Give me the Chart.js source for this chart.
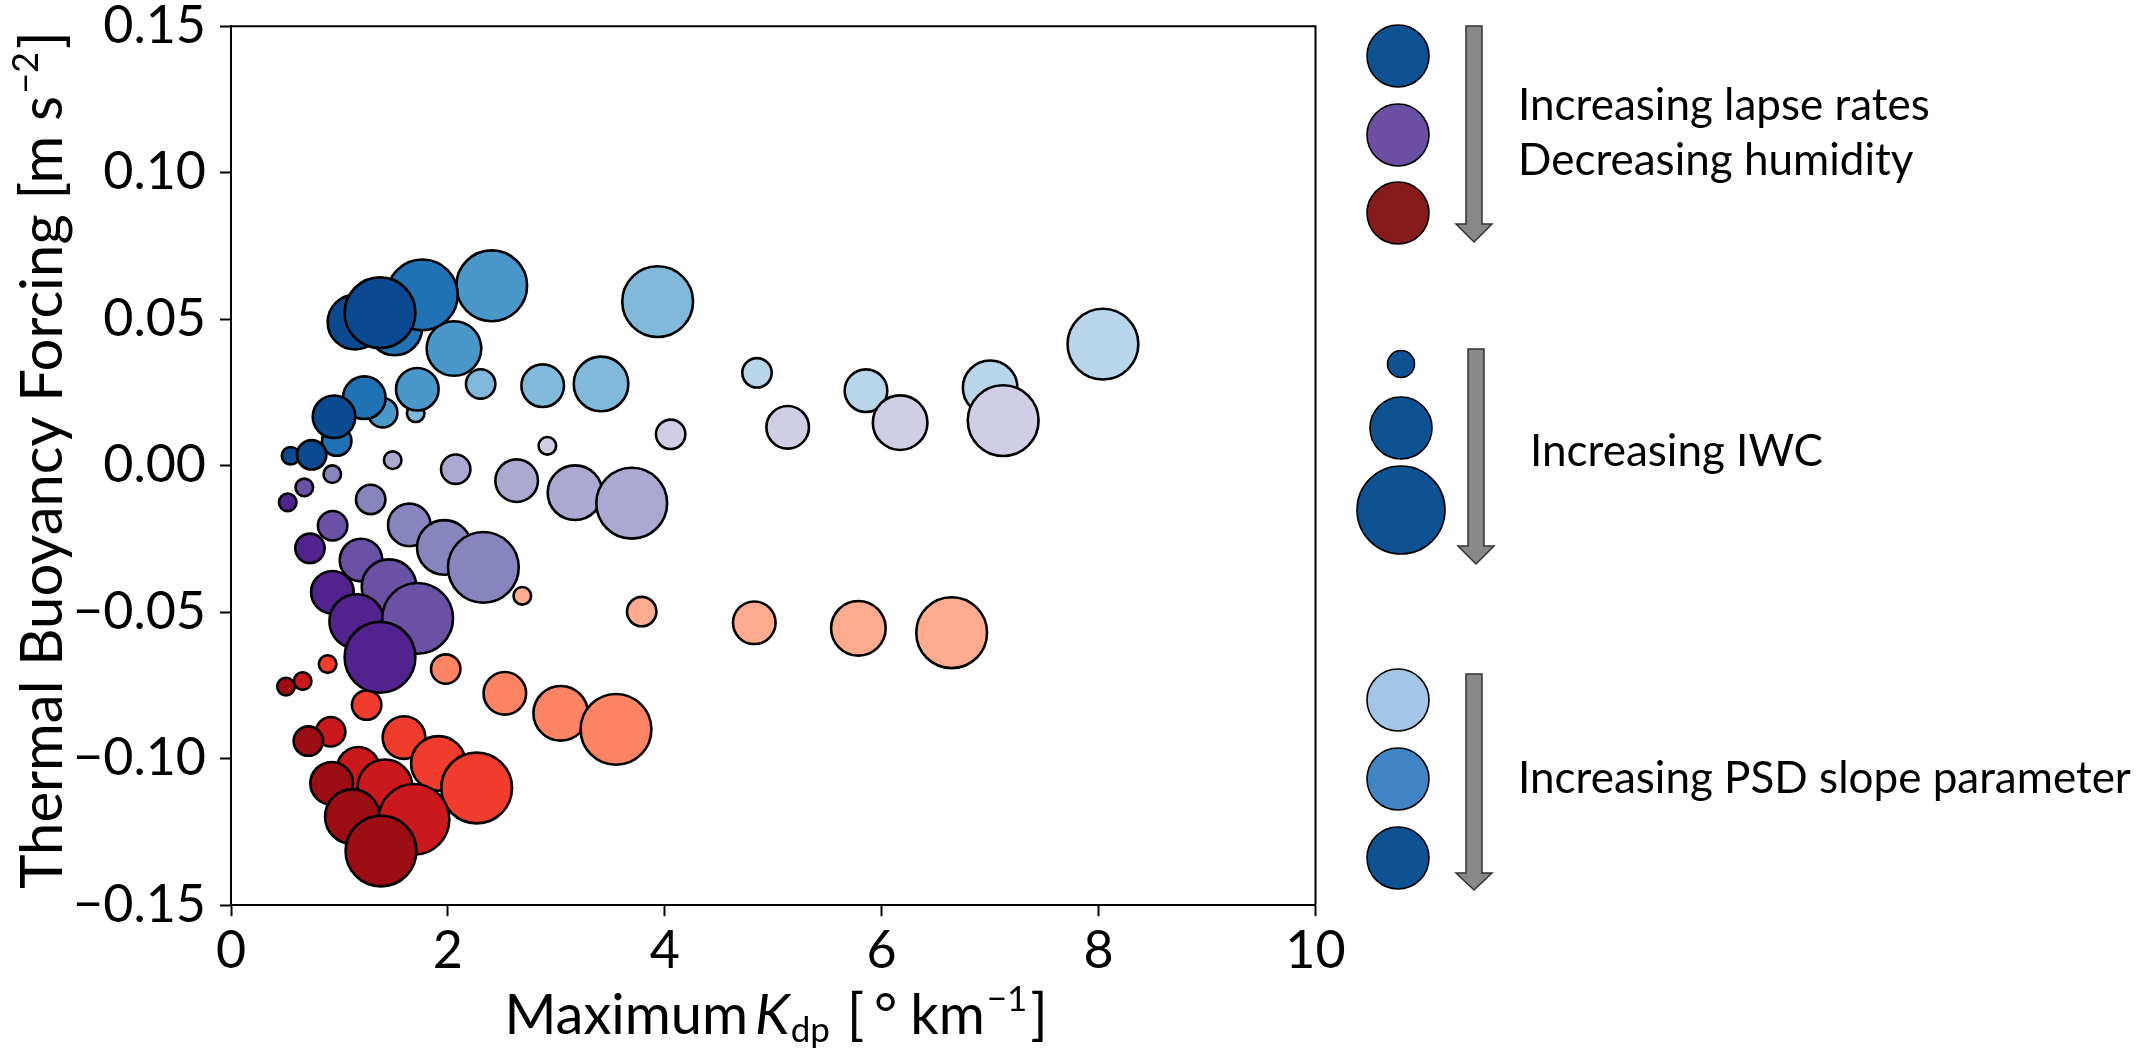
<!DOCTYPE html>
<html>
<head>
<meta charset="utf-8">
<style>
  html, body { margin: 0; padding: 0; background: #ffffff; }
  #wrap { width: 2154px; height: 1049px; position: relative; }
</style>
<script src="https://cdn.jsdelivr.net/npm/chart.js@4.4.1/dist/chart.umd.min.js"></script>
</head>
<body>
<div id="wrap"><canvas id="c" width="2154" height="1049"></canvas></div>
<script>
// ---------------- DATA ----------------
// Max Kdp [deg/km], thermal buoyancy forcing [m s^-2]
// shade: 0 = lightest ... 4 = darkest (PSD slope parameter); level: 0 = smallest ... 4 = largest (IWC)
const blueKdp   = [0.550, 0.744, 0.950, 1.143, 1.374,  0.975, 1.229, 1.510, 1.764,  1.399, 1.718, 2.056, 2.404,  1.703, 2.302, 2.874, 3.412, 3.934,  4.850, 5.855, 7.000, 8.040];
const blueTbf   = [0.0034, 0.0037, 0.0167, 0.0490, 0.0522,  0.0084, 0.0232, 0.0470, 0.0583,  0.0181, 0.0261, 0.0400, 0.0614,  0.0179, 0.0279, 0.0273, 0.0279, 0.0560,  0.0317, 0.0256, 0.0266, 0.0415];
const blueShade = [4, 4, 4, 4, 4,  3, 3, 3, 3,  2, 2, 2, 2,  1, 1, 1, 1, 1,  0, 0, 0, 0];
const blueLevel = [0, 1, 2, 3, 4,  1, 2, 3, 4,  1, 2, 3, 4,  0, 1, 2, 3, 4,  1, 2, 3, 4];

const purpleKdp   = [0.523, 0.728, 0.935, 1.159, 1.374,  0.676, 0.937, 1.199, 1.457, 1.721,  0.934, 1.288, 1.644, 1.967, 2.327,  1.491, 2.072, 2.634, 3.172, 3.695,  2.917, 4.054, 5.133, 6.170, 7.120];
const purpleTbf   = [-0.0125, -0.0282, -0.0432, -0.0532, -0.0654,  -0.0074, -0.0205, -0.0322, -0.0413, -0.0521,  -0.0029, -0.0115, -0.0202, -0.0279, -0.0347,  0.0019, -0.0012, -0.0051, -0.0092, -0.0128,  0.0068, 0.0107, 0.0131, 0.0147, 0.0154];
const purpleShade = [4, 4, 4, 4, 4,  3, 3, 3, 3, 3,  2, 2, 2, 2, 2,  1, 1, 1, 1, 1,  0, 0, 0, 0, 0];
const purpleLevel = [0, 1, 2, 3, 4,  0, 1, 2, 3, 4,  0, 1, 2, 3, 4,  0, 1, 2, 3, 4,  0, 1, 2, 3, 4];

const redKdp   = [0.507, 0.713, 0.928, 1.119, 1.383,  0.661, 0.919, 1.174, 1.420, 1.687,  0.891, 1.251, 1.595, 1.912, 2.265,  1.980, 2.525, 3.040, 3.550,  2.686, 3.787, 4.825, 5.785, 6.645];
const redTbf   = [-0.0754, -0.0940, -0.1084, -0.1198, -0.1315,  -0.0735, -0.0908, -0.1033, -0.1096, -0.1207,  -0.0677, -0.0817, -0.0928, -0.1016, -0.1100,  -0.0694, -0.0777, -0.0845, -0.0900,  -0.0444, -0.0498, -0.0536, -0.0555, -0.0570];
const redShade = [4, 4, 4, 4, 4,  3, 3, 3, 3, 3,  2, 2, 2, 2, 2,  1, 1, 1, 1,  0, 0, 0, 0, 0];
const redLevel = [0, 1, 2, 3, 4,  0, 1, 2, 3, 4,  0, 1, 2, 3, 4,  1, 2, 3, 4,  0, 1, 2, 3, 4];

const xTicks = [0, 2, 4, 6, 8, 10];
const yTicks = [-0.15, -0.10, -0.05, 0.00, 0.05, 0.10, 0.15];

const legendLines = ["Increasing lapse rates", "Decreasing humidity"];
const legendIWC = "Increasing IWC";
const legendPSD = "Increasing PSD slope parameter";

// ---------------- STYLE ----------------
const palettes = {
  blue:   ['#b9d5ea', '#80b9da', '#4a97c9', '#2171b5', '#0b4a90'],
  purple: ['#cfcee5', '#aba8d1', '#8884be', '#6a51a3', '#52238e'],
  red:    ['#fcab8f', '#fc8363', '#ef3c2c', '#cb181d', '#9d0d14']
};
const levelRadius = [8.8, 14.7, 21.3, 27.3, 35.4];
const FONT = 'Lato, "Open Sans", "DejaVu Sans", sans-serif';
const FS_TICK = 52;
const FS_XTITLE = 56;
const FS_YTITLE = 58;
const FS_LEG = 44;
const PLOT = { left: 231, right: 1315.5, top: 26.2, bottom: 905.2 };

function buildPoints() {
  const fams = [
    ['blue', blueKdp, blueTbf, blueShade, blueLevel],
    ['purple', purpleKdp, purpleTbf, purpleShade, purpleLevel],
    ['red', redKdp, redTbf, redShade, redLevel]
  ];
  const pts = [];
  fams.forEach(([name, xs, ys, sh, lv]) => {
    for (let i = 0; i < xs.length; i++) {
      pts.push({ x: xs[i], y: ys[i], r: levelRadius[lv[i]], _lv: lv[i], _sh: sh[i], _c: palettes[name][sh[i]] });
    }
  });
  pts.sort((a, b) => (a._lv - b._lv) || (a._sh - b._sh));
  return pts;
}
const points = buildPoints();

function runsWidth(ctx, parts) {
  let w = 0;
  parts.forEach(p => { ctx.font = p.font; w += (p.gap || 0) + ctx.measureText(p.t).width; });
  return w;
}
function drawRuns(ctx, parts, x, y) {
  let cx = x;
  parts.forEach(p => {
    cx += (p.gap || 0);
    ctx.font = p.font;
    ctx.fillText(p.t, cx, y + (p.dy || 0));
    cx += ctx.measureText(p.t).width;
  });
}

const decor = {
  id: 'decor',
  afterLayout(chart) {
    const ys = chart.scales.y;
    ys.top = PLOT.top;
    ys.height = ys.bottom - ys.top;
    ys.configure();
    chart.chartArea.top = PLOT.top;
    chart.chartArea.height = chart.chartArea.bottom - PLOT.top;
  },
  afterDraw(chart) {
    const ctx = chart.ctx;
    const a = chart.chartArea;
    ctx.save();
    ctx.strokeStyle = '#000';
    ctx.lineWidth = 2;
    ctx.beginPath();
    ctx.moveTo(a.left, a.top);
    ctx.lineTo(a.right, a.top);
    ctx.lineTo(a.right, a.bottom);
    ctx.stroke();

    ctx.fillStyle = '#000';
    ctx.textBaseline = 'alphabetic';
    ctx.textAlign = 'left';

    const xn = `${FS_XTITLE}px ${FONT}`;
    const xs = `${Math.round(FS_XTITLE * 0.62)}px ${FONT}`;
    const xi = `italic ${FS_XTITLE}px ${FONT}`;
    const xParts = [
      { t: 'Maximum', font: xn },
      { t: 'K', font: xi, gap: 7 },
      { t: 'dp', font: xs, dy: 8, gap: 1 },
      { t: '[', font: xn, gap: 17 },
      { t: '°', font: xn, gap: 10 },
      { t: 'km', font: xn, gap: 13 },
      { t: '−1', font: xs, dy: -23, gap: 2 },
      { t: ']', font: xn, gap: 3 }
    ];
    const xw = runsWidth(ctx, xParts);
    drawRuns(ctx, xParts, 776 - xw / 2, 1034);

    const yn = `${FS_YTITLE}px ${FONT}`;
    const ysm = `${Math.round(FS_YTITLE * 0.62)}px ${FONT}`;
    const yParts = [
      { t: 'Thermal Buoyancy Forcing [m s', font: yn },
      { t: '−2', font: ysm, dy: -24, gap: 2 },
      { t: ']', font: yn, gap: 3 }
    ];
    const yw = runsWidth(ctx, yParts);
    ctx.save();
    ctx.translate(62, 460);
    ctx.rotate(-Math.PI / 2);
    drawRuns(ctx, yParts, -yw / 2, 0);
    ctx.restore();

    function circ(x, y, r, c) {
      ctx.beginPath();
      ctx.arc(x, y, r, 0, Math.PI * 2);
      ctx.fillStyle = c;
      ctx.fill();
      ctx.lineWidth = 1.6;
      ctx.strokeStyle = '#000';
      ctx.stroke();
    }
    function arrow(cx, top, headTop, tip) {
      ctx.beginPath();
      ctx.moveTo(cx - 8, top);
      ctx.lineTo(cx + 8, top);
      ctx.lineTo(cx + 8, headTop);
      ctx.lineTo(cx + 18, headTop);
      ctx.lineTo(cx, tip);
      ctx.lineTo(cx - 18, headTop);
      ctx.lineTo(cx - 8, headTop);
      ctx.closePath();
      ctx.fillStyle = '#888888';
      ctx.fill();
      ctx.lineWidth = 1.5;
      ctx.strokeStyle = '#333333';
      ctx.stroke();
    }
    circ(1398, 56, 31, '#0e5293');
    circ(1398, 135, 31, '#6a4fa3');
    circ(1398, 213, 31, '#871a1a');
    arrow(1474, 26, 224, 242);

    circ(1401, 364, 13.5, '#0e5293');
    circ(1401, 428, 31, '#0e5293');
    circ(1401, 510, 44, '#0e5293');
    arrow(1476, 349, 546, 564);

    circ(1398, 700, 31, '#a3c6e8');
    circ(1398, 779, 31, '#3f84c5');
    circ(1398, 858, 31, '#0e5293');
    arrow(1474, 674, 873, 890);

    ctx.fillStyle = '#000';
    ctx.font = `${FS_LEG}px ${FONT}`;
    ctx.textBaseline = 'middle';
    ctx.textAlign = 'left';
    ctx.fillText(legendLines[0], 1518, 106);
    ctx.fillText(legendLines[1], 1518, 161);
    ctx.fillText(legendIWC, 1530, 452);
    ctx.fillText(legendPSD, 1518, 779);
    ctx.restore();
  }
};

function fmtY(v) {
  if (Math.abs(v) < 1e-9) v = 0;
  return v.toFixed(2).replace('-', '\u2212');
}

new Chart(document.getElementById('c'), {
  type: 'bubble',
  data: {
    datasets: [{
      data: points,
      backgroundColor: points.map(p => p._c),
      borderColor: '#000000',
      borderWidth: 2.6,
      hoverBorderWidth: 2.6,
      hoverRadius: 0
    }]
  },
  options: {
    responsive: false,
    animation: false,
    devicePixelRatio: 1,
    events: [],
    layout: { padding: { left: 0, right: 2154 - PLOT.right, top: PLOT.top, bottom: 0 } },
    plugins: { legend: { display: false }, tooltip: { enabled: false } },
    scales: {
      x: {
        type: 'linear',
        min: 0, max: 10,
        afterBuildTicks: s => { s.ticks = xTicks.map(v => ({ value: v })); },
        afterFit: s => { s.height = 1049 - PLOT.bottom; s.paddingLeft = 0; s.paddingRight = 0; },
        grid: { drawOnChartArea: false, drawTicks: true, tickLength: 11, tickColor: '#000', tickWidth: 2 },
        border: { display: true, color: '#000', width: 2 },
        ticks: { color: '#000', font: { family: FONT, size: FS_TICK }, padding: 4, maxRotation: 0, callback: v => String(v) }
      },
      y: {
        type: 'linear',
        min: -0.15, max: 0.15,
        afterBuildTicks: s => { s.ticks = yTicks.map(v => ({ value: v })); },
        afterFit: s => { s.width = PLOT.left; s.paddingTop = 0; s.paddingBottom = 0; },
        grid: { drawOnChartArea: false, drawTicks: true, tickLength: 11, tickColor: '#000', tickWidth: 2 },
        border: { display: true, color: '#000', width: 2 },
        ticks: { color: '#000', font: { family: FONT, size: FS_TICK }, padding: 14, callback: v => fmtY(v) }
      }
    }
  },
  plugins: [decor]
});
</script>
</body>
</html>
